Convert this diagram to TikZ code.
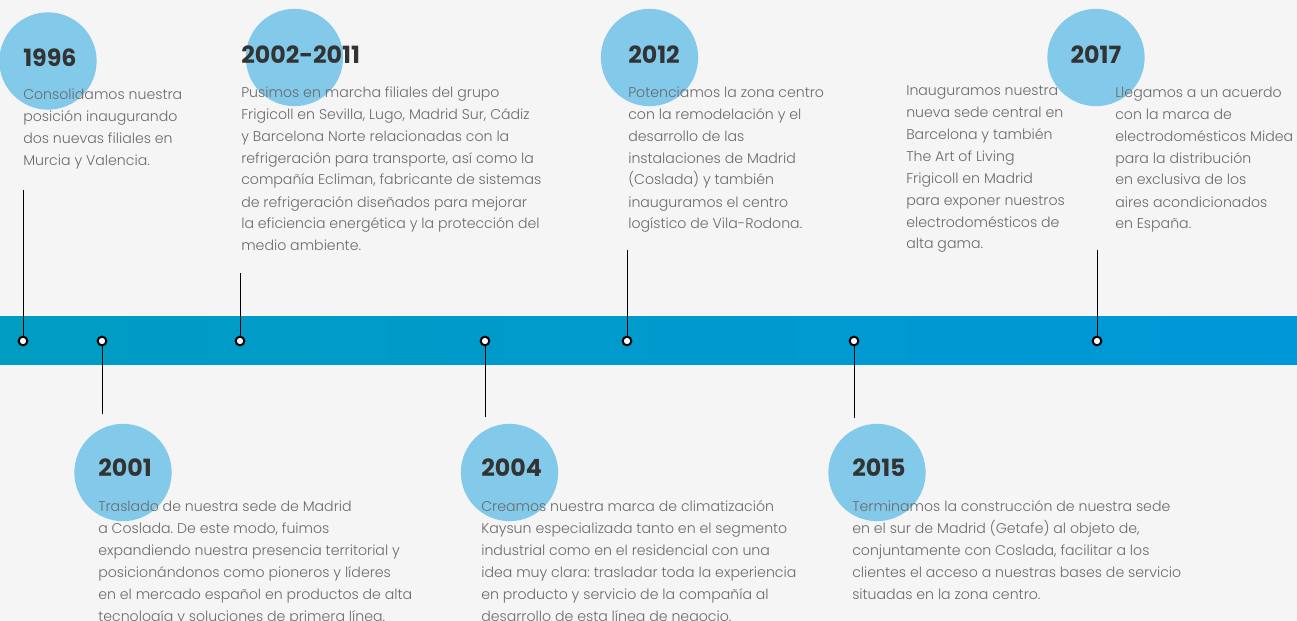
\documentclass[tikz,border=0pt]{standalone}
\usepackage{fontspec}
\setmainfont{Poppins}
\IfFontExistsTF{Poppins Light}{\newfontfamily\bodyfont{Poppins Light}}{\newfontfamily\bodyfont{Poppins}}
\frenchspacing
\definecolor{bg}{HTML}{F5F5F5}
\definecolor{barL}{HTML}{009CC2}
\definecolor{barR}{HTML}{0097D8}
\definecolor{bubble}{HTML}{83C9E9}
\definecolor{yeartxt}{HTML}{333333}
\definecolor{bodytxt}{HTML}{6A6A6A}
\newcommand{\tlines}[1]{\vtop{\let\\\cr\halign{##\hfil\cr#1\crcr}}}
\tikzset{
  bubblec/.style={circle, fill=bubble, minimum size=73pt, inner sep=0pt},
  yearlbl/.style={anchor=base west, inner sep=0pt, text=yeartxt, font=\fontsize{17.8}{20}\selectfont\bfseries},
  bodylbl/.style={anchor=base west, inner sep=0pt, text=bodytxt, font=\bodyfont\fontsize{10.6}{16.5}\selectfont\frenchspacing},
  dotc/.style={circle, draw=black, line width=1.5pt, fill=white, minimum size=6.5pt, inner sep=0pt},
  stem/.style={draw=black, line width=0.75pt},
}
\begin{document}
\begin{tikzpicture}[x=0.75pt, y=-0.75pt]
\useasboundingbox (0,0) rectangle (1297,621);
\fill[bg] (0,0) rectangle (1297,621);
\shade[left color=barL, right color=barR] (0,316) rectangle (1297,364);

% bubbles
\node[bubblec] (c1996) at (48,61) {};
\node[bubblec] (c2002) at (294.5,57.5) {};
\node[bubblec] (c2012) at (649.5,57.5) {};
\node[bubblec] (c2017) at (1096,57.5) {};
\node[bubblec] (c2001) at (123,472.5) {};
\node[bubblec] (c2004) at (509.5,472.5) {};
\node[bubblec] (c2015) at (877,472.5) {};

% stem ends
\coordinate (e1996) at (23,190);
\coordinate (e2001) at (102,414);
\coordinate (e2002) at (240,273);
\coordinate (e2004) at (485,417);
\coordinate (e2012) at (627,250);
\coordinate (e2015) at (854,418);
\coordinate (e2017) at (1097,250);

\path (23,341) coordinate (p1996) (102,341) coordinate (p2001) (240,341) coordinate (p2002)
      (485,341) coordinate (p2004) (627,341) coordinate (p2012) (854,341) coordinate (p2015)
      (1097,341) coordinate (p2017);

\foreach \k in {1996,2001,2002,2004,2012,2015,2017}{
  \draw[stem] (e\k) -- (p\k);
}
\foreach \k in {1996,2001,2002,2004,2012,2015,2017}{
  \node[dotc] (d\k) at (p\k) {};
}

% years
\node[yearlbl] (y1996) at (23,66) {1996};
\node[yearlbl] (y2002) at (241,63) {2002-2011};
\node[yearlbl] (y2012) at (628,63) {2012};
\node[yearlbl, anchor=base] (y2017) at (1096,63) {2017};
\node[yearlbl] (y2001) at (98,476) {2001};
\node[yearlbl] (y2004) at (481,476) {2004};
\node[yearlbl] (y2015) at (852,476) {2015};

% bodies
\node[bodylbl] (t1996) at (23,99) {\tlines{Consolidamos nuestra\\posición inaugurando\\dos nuevas filiales en\\Murcia y Valencia.}};
\node[bodylbl] (t2002) at (241,97) {\tlines{Pusimos en marcha filiales del grupo\\Frigicoll en Sevilla, Lugo, Madrid Sur, Cádiz\\y Barcelona Norte relacionadas con la\\refrigeración para transporte, así como la\\compañía Ecliman, fabricante de sistemas\\de refrigeración diseñados para mejorar\\la eficiencia energética y la protección del\\medio ambiente.}};
\node[bodylbl] (t2012) at (628,97) {\tlines{Potenciamos la zona centro\\con la remodelación y el\\desarrollo de las\\instalaciones de Madrid\\(Coslada) y también\\inauguramos el centro\\logístico de Vila-Rodona.}};
\node[bodylbl] (t2017a) at (906,95) {\tlines{Inauguramos nuestra\\nueva sede central en\\Barcelona y también\\The Art of Living\\Frigicoll en Madrid\\para exponer nuestros\\electrodomésticos de\\alta gama.}};
\node[bodylbl] (t2017b) at (1115,97) {\tlines{Llegamos a un acuerdo\\con la marca de\\electrodomésticos Midea\\para la distribución\\en exclusiva de los\\aires acondicionados\\en España.}};
\node[bodylbl] (t2001) at (98,511) {\tlines{Traslado de nuestra sede de Madrid\\a Coslada. De este modo, fuimos\\expandiendo nuestra presencia territorial y\\posicionándonos como pioneros y líderes\\en el mercado español en productos de alta\\tecnología y soluciones de primera línea.}};
\node[bodylbl] (t2004) at (481,511) {\tlines{Creamos nuestra marca de climatización\\Kaysun especializada tanto en el segmento\\industrial como en el residencial con una\\idea muy clara: trasladar toda la experiencia\\en producto y servicio de la compañía al\\desarrollo de esta línea de negocio.}};
\node[bodylbl] (t2015) at (852,511) {\tlines{Terminamos la construcción de nuestra sede\\en el sur de Madrid (Getafe) al objeto de,\\conjuntamente con Coslada, facilitar a los\\clientes el acceso a nuestras bases de servicio\\situadas en la zona centro.}};
\end{tikzpicture}
\end{document}
